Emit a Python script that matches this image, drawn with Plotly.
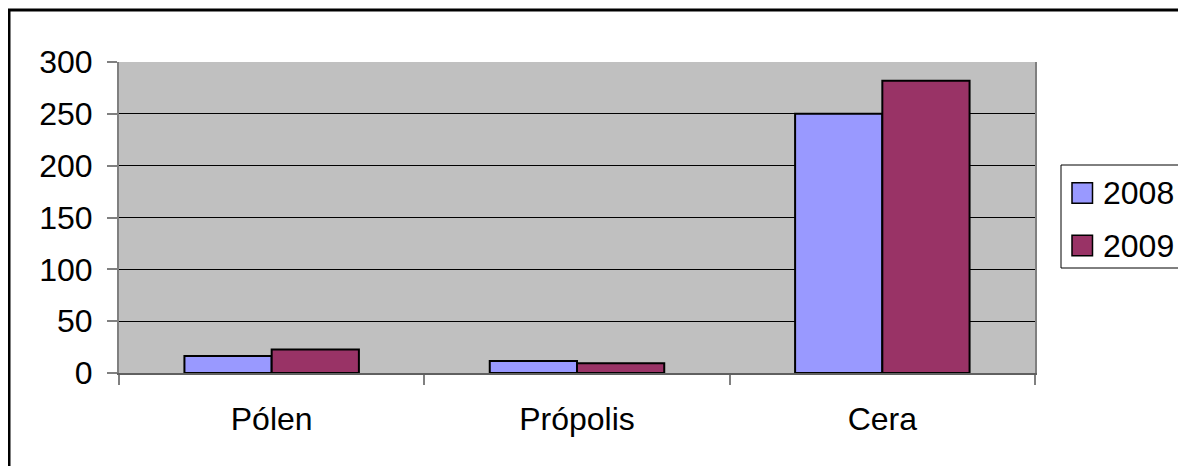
import plotly.graph_objects as go

categories = ["Pólen", "Própolis", "Cera"]
series_names = ["2008", "2009"]
values_2008 = [16.5, 11.5, 250]
values_2009 = [22.7, 9.4, 282]
colors = ["#9999FF", "#993366"]
y_ticks = [0, 50, 100, 150, 200, 250, 300]

OFF = 8  # default page body margin
W, H = 1186 - OFF, 466 - OFF
# plot area in page pixels
L, R, T, B = 119, 1035, 62, 373
pw, ph = R - L, B - T

def px(x):
    return (x - L) / pw

def py(y):
    return (B - y) / ph

FONT = "Liberation Sans, Arial, sans-serif"
FS = 32

fig = go.Figure()
for name, vals, col in zip(series_names, [values_2008, values_2009], colors):
    fig.add_trace(go.Bar(
        x=categories, y=vals, name=name,
        marker=dict(color=col, line=dict(color="black", width=2)),
        showlegend=False,
    ))

shapes = []
annotations = []
# outer chart border
shapes.append(dict(type="rect", xref="paper", yref="paper",
                   x0=px(9), x1=px(1260), y0=py(10), y1=py(520),
                   line=dict(color="black", width=3), layer="below"))
# legend box
shapes.append(dict(type="rect", xref="paper", yref="paper",
                   x0=px(1061), x1=px(1260), y0=py(165), y1=py(268),
                   line=dict(color="black", width=1)))
for i, (name, col) in enumerate(zip(series_names, colors)):
    cy = 193 + i * 52.5
    shapes.append(dict(type="rect", xref="paper", yref="paper",
                       x0=px(1072), x1=px(1092.5), y0=py(cy - 10.3), y1=py(cy + 10.3),
                       fillcolor=col, line=dict(color="black", width=1.5)))
    annotations.append(dict(xref="paper", yref="paper", x=px(1101), y=py(cy),
                            text=name, showarrow=False, xanchor="left", yanchor="middle",
                            font=dict(family=FONT, size=FS, color="black")))

fig.update_layout(
    width=W, height=H,
    margin=dict(l=L - OFF, r=W - (R - OFF), t=T - OFF, b=H - (B - OFF), pad=0),
    paper_bgcolor="white",
    plot_bgcolor="#C0C0C0",
    barmode="group",
    bargap=1.5 / 3.5,
    bargroupgap=0,
    font=dict(family=FONT, size=FS, color="black"),
    shapes=shapes,
    annotations=annotations,
    xaxis=dict(
        type="category",
        showline=True, linecolor="#606060", linewidth=2,
        mirror=False,
        ticks="outside", ticklen=10, tickcolor="#808080", tickwidth=1.5,
        tickson="boundaries",
        showgrid=False,
        tickfont=dict(family=FONT, size=FS, color="black"),
        ticklabelstandoff=17,
    ),
    yaxis=dict(
        range=[0, 300],
        tickvals=y_ticks,
        showline=True, linecolor="#808080", linewidth=2,
        mirror=True,
        ticks="outside", ticklen=10, tickcolor="#808080", tickwidth=1.5,
        showgrid=True, gridcolor="black", gridwidth=1,
        zeroline=False,
        tickfont=dict(family=FONT, size=FS, color="black"),
        ticklabelstandoff=8,
    ),
)

fig.write_html("out.html")
